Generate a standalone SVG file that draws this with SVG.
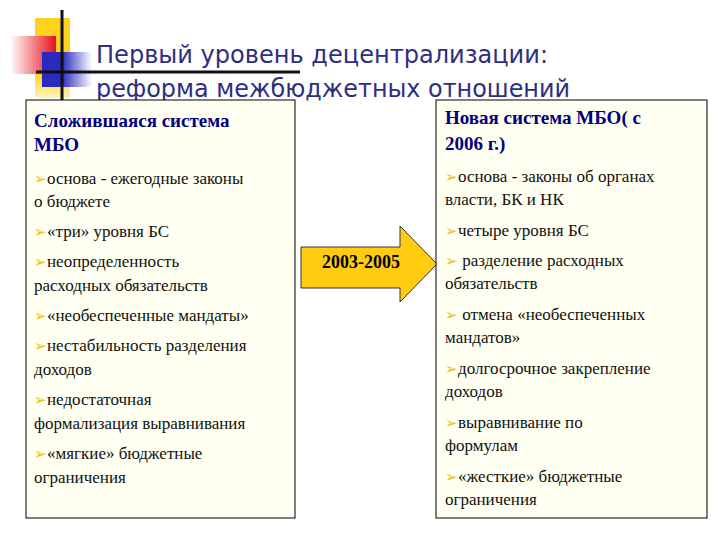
<svg xmlns="http://www.w3.org/2000/svg" width="720" height="540" viewBox="0 0 720 540">
<defs>
<linearGradient id="red" x1="1" y1="0" x2="0" y2="0"><stop offset="0" stop-color="#e8101a"/><stop offset="1" stop-color="#ffffff"/></linearGradient>
<linearGradient id="blue" x1="0" y1="0" x2="1" y2="0"><stop offset="0.4" stop-color="#2a2ac0"/><stop offset="1" stop-color="#ffffff"/></linearGradient>
<linearGradient id="yel" x1="0" y1="0" x2="0" y2="1"><stop offset="0.7" stop-color="#ffd21e"/><stop offset="1" stop-color="#fff4c0"/></linearGradient>
<style>
.h{font-size:19px;font-weight:bold;fill:#000080}
.b{font-size:17px;fill:#111}
.m{fill:#f0c000;font-size:15px}
.box{fill:#fffff2;stroke:#000;stroke-width:1}
</style>
</defs>
<g id="logo">
<rect x="35" y="18" width="35" height="80" fill="url(#yel)"/>
<rect x="10" y="36" width="46" height="38" fill="url(#red)"/>
<rect x="42" y="52" width="50" height="35" fill="url(#blue)"/>
<line x1="62" y1="10" x2="62" y2="100" stroke="#111" stroke-width="3"/>
<line x1="36" y1="72" x2="300" y2="72" stroke="#111" stroke-width="3"/>
</g>
<g id="title" font-family="DejaVu Sans, sans-serif" font-size="24" fill="#2e2e80">
<text x="96" y="63" textLength="452" lengthAdjust="spacingAndGlyphs">Первый уровень децентрализации:</text>
<text x="96" y="97" textLength="474" lengthAdjust="spacingAndGlyphs">реформа межбюджетных отношений</text>
</g>
<g id="left" font-family="Liberation Serif, DejaVu Serif, serif">
<rect class="box" x="26" y="100" width="269" height="418"/>
<text class="h" x="34" y="127">Сложившаяся система</text>
<text class="h" x="34" y="151">МБО</text>
<text class="b" x="34" y="184"><tspan class="m">➢</tspan>основа - ежегодные законы</text>
<text class="b" x="34" y="207">о бюджете</text>
<text class="b" x="34" y="237"><tspan class="m">➢</tspan>«три» уровня БС</text>
<text class="b" x="34" y="267"><tspan class="m">➢</tspan>неопределенность</text>
<text class="b" x="34" y="291">расходных обязательств</text>
<text class="b" x="34" y="321"><tspan class="m">➢</tspan>«необеспеченные мандаты»</text>
<text class="b" x="34" y="351"><tspan class="m">➢</tspan>нестабильность разделения</text>
<text class="b" x="34" y="375">доходов</text>
<text class="b" x="34" y="405"><tspan class="m">➢</tspan>недостаточная</text>
<text class="b" x="34" y="429">формализация выравнивания</text>
<text class="b" x="34" y="459"><tspan class="m">➢</tspan>«мягкие» бюджетные</text>
<text class="b" x="34" y="483">ограничения</text>
</g>
<g id="arrow">
<polygon points="301,247 400,247 400,226 437,264 400,302 400,288 301,288" fill="#ffcc11" stroke="#333" stroke-width="1"/>
<text x="361" y="268" text-anchor="middle" font-family="Liberation Serif, serif" font-size="18" font-weight="bold" fill="#000">2003-2005</text>
</g>
<g id="right" font-family="Liberation Serif, DejaVu Serif, serif">
<rect class="box" x="436" y="100" width="271" height="418"/>
<text class="h" x="445" y="124">Новая система МБО( с</text>
<text class="h" x="445" y="150">2006 г.)</text>
<text class="b" x="445" y="182"><tspan class="m">➢</tspan>основа - законы об органах</text>
<text class="b" x="445" y="205">власти, БК и НК</text>
<text class="b" x="445" y="236"><tspan class="m">➢</tspan>четыре уровня БС</text>
<text class="b" x="445" y="266"><tspan class="m">➢</tspan> разделение расходных</text>
<text class="b" x="445" y="289">обязательств</text>
<text class="b" x="445" y="320"><tspan class="m">➢</tspan> отмена «необеспеченных</text>
<text class="b" x="445" y="343">мандатов»</text>
<text class="b" x="445" y="374"><tspan class="m">➢</tspan>долгосрочное закрепление</text>
<text class="b" x="445" y="397">доходов</text>
<text class="b" x="445" y="428"><tspan class="m">➢</tspan>выравнивание по</text>
<text class="b" x="445" y="451">формулам</text>
<text class="b" x="445" y="482"><tspan class="m">➢</tspan>«жесткие» бюджетные</text>
<text class="b" x="445" y="505">ограничения</text>
</g>
</svg>
